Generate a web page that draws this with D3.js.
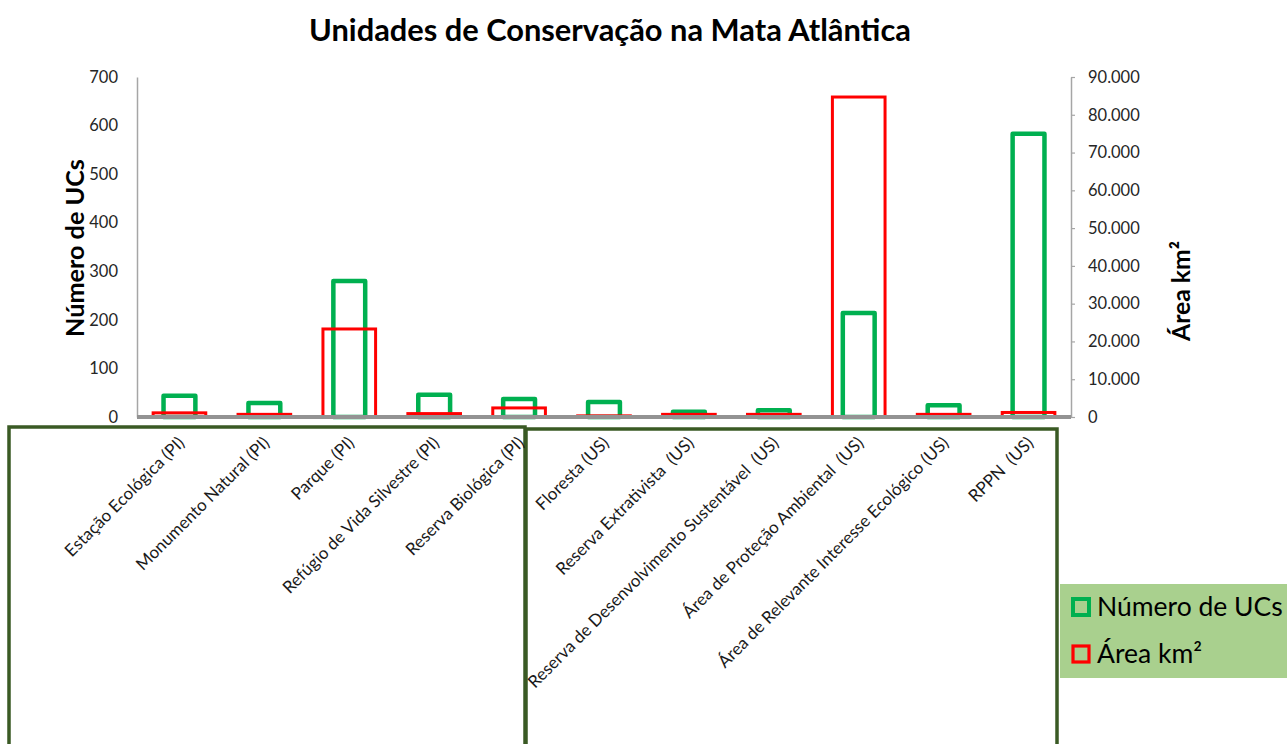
<!DOCTYPE html>
<html>
<head>
<meta charset="utf-8">
<script src="https://cdn.jsdelivr.net/npm/d3@7"></script>
<style>
  body { margin: 0; background: #fff; }
  svg { display: block; font-family: Lato, "Liberation Sans", sans-serif; }
</style>
</head>
<body>
<svg id="chart" width="1287" height="744"></svg>
<script>
// categories and values
const categories = [
    "Estação Ecológica (PI)",
    "Monumento Natural (PI)",
    "Parque (PI)",
    "Refúgio de Vida Silvestre (PI)",
    "Reserva Biológica (PI)",
    "Floresta (US)",
    "Reserva Extrativista  (US)",
    "Reserva de Desenvolvimento Sustentável  (US)",
    "Área de Proteção Ambiental  (US)",
    "Área de Relevante Interesse Ecológico (US)",
    "RPPN  (US)"
];
const numeroUCs = [44, 29, 280, 46, 37, 31, 11, 14, 214, 24, 583];
const areaKm2 = [1100, 700, 23300, 900, 2400, 300, 700, 700, 84700, 700, 1200];
const leftTicks = [0, 100, 200, 300, 400, 500, 600, 700];
const rightTicks = [0, 10000, 20000, 30000, 40000, 50000, 60000, 70000, 80000, 90000];

const svg = d3.select("#chart");
const plot = { left: 137, right: 1071, top: 77, bottom: 417 };

const x = d3.scaleBand()
    .domain(categories)
    .range([plot.left, plot.right]);

const yLeft = d3.scaleLinear()
    .domain([0, 700])
    .range([plot.bottom, plot.top]);

const yRight = d3.scaleLinear()
    .domain([0, 90000])
    .range([plot.bottom, plot.top]);

const ptBR = d3.formatLocale({ decimal: ",", thousands: ".", grouping: [3], currency: ["R$", ""] });
const fmtRight = ptBR.format(",d");

// scale font size so the text fills a given width
function fitWidth(sel, width) {
    sel.each(function () {
        let fs = parseFloat(d3.select(this).style("font-size"));
        let w = this.getComputedTextLength();
        d3.select(this).style("font-size", (fs * width / w) + "px");
    });
}

//Title
svg.append("text")
    .attr("x", 610)
    .attr("y", 41)
    .attr("text-anchor", "middle")
    .style("font-size", "28px")
    .style("font-weight", "bold")
    .style("fill", "#000")
    .text("Unidades de Conservação na Mata Atlântica")
    .call(fitWidth, 602);

//Left axis
let gLeft = svg.append("g")
    .attr("transform", "translate(" + plot.left + ",0)")
    .call(d3.axisLeft(yLeft).tickValues(leftTicks).tickSize(0).tickPadding(19));
gLeft.select(".domain").attr("stroke", "#a6a6a6").attr("stroke-width", 1.5);
gLeft.selectAll("text")
    .style("font-family", "Lato, sans-serif")
    .style("font-size", "16.5px")
    .style("fill", "#262626");

//Right axis
let gRight = svg.append("g")
    .attr("transform", "translate(" + plot.right + ",0)")
    .call(d3.axisRight(yRight).tickValues(rightTicks).tickSize(4).tickSizeOuter(0).tickPadding(13).tickFormat(fmtRight));
gRight.select(".domain").attr("stroke", "#a6a6a6").attr("stroke-width", 1.5);
gRight.selectAll(".tick line").attr("stroke", "#a6a6a6").attr("stroke-width", 1.2);
gRight.selectAll("text")
    .style("font-family", "Lato, sans-serif")
    .style("font-size", "16.5px")
    .style("fill", "#262626");

//Axis titles
svg.append("text")
    .attr("transform", "translate(84,248) rotate(-90)")
    .attr("text-anchor", "middle")
    .style("font-size", "21px")
    .style("font-weight", "bold")
    .text("Número de UCs")
    .call(fitWidth, 178);

svg.append("text")
    .attr("transform", "translate(1190,291) rotate(-90)")
    .attr("text-anchor", "middle")
    .style("font-size", "21px")
    .style("font-weight", "bold")
    .text("Área km²")
    .call(fitWidth, 100);

//Green bars (Número de UCs)
const greenW = x.bandwidth() * 0.375;
svg.append("g")
    .selectAll("rect")
    .data(numeroUCs)
    .join("rect")
    .attr("x", (d, i) => x(categories[i]) + x.bandwidth() / 2 - greenW / 2)
    .attr("y", d => yLeft(d))
    .attr("width", greenW)
    .attr("height", d => yLeft(0) - yLeft(d))
    .attr("fill", "none")
    .attr("stroke", "#00b050")
    .attr("stroke-width", 4.5)
    .attr("stroke-linejoin", "round");

//Red bars (Área km²)
const redW = x.bandwidth() * 0.62;
svg.append("g")
    .selectAll("rect")
    .data(areaKm2)
    .join("rect")
    .attr("x", (d, i) => x(categories[i]) + x.bandwidth() / 2 - redW / 2)
    .attr("y", d => yRight(d))
    .attr("width", redW)
    .attr("height", d => yRight(0) - yRight(d))
    .attr("fill", "none")
    .attr("stroke", "#ff0000")
    .attr("stroke-width", 3);

//Baseline
svg.append("line")
    .attr("x1", plot.left)
    .attr("x2", plot.right)
    .attr("y1", yLeft(0))
    .attr("y2", yLeft(0))
    .attr("stroke", "#939393")
    .attr("stroke-width", 4);

//Group boxes below the axis
svg.append("rect")
    .attr("x", 9).attr("y", 427)
    .attr("width", 516).attr("height", 400)
    .attr("fill", "none")
    .attr("stroke", "#3a5a24")
    .attr("stroke-width", 3.5);
svg.append("rect")
    .attr("x", 526).attr("y", 429)
    .attr("width", 531).attr("height", 400)
    .attr("fill", "none")
    .attr("stroke", "#3a5a24")
    .attr("stroke-width", 3.5);

//Category labels
svg.append("g")
    .selectAll("text")
    .data(categories)
    .join("text")
    .attr("transform", d => "translate(" + (x(d) + x.bandwidth() / 2 - 3) + ",435) rotate(-45)")
    .attr("text-anchor", "end")
    .attr("dy", "0.75em")
    .style("font-size", "17px")
    .style("fill", "#1a1a1a")
    .style("white-space", "pre")
    .text(d => d);

//Legend
let legend = svg.append("g");
legend.append("rect")
    .attr("x", 1060).attr("y", 584)
    .attr("width", 230).attr("height", 94)
    .attr("fill", "#a9d08e");

const legendItems = [
    { label: "Número de UCs", color: "#00b050", sw: 4, y: 607 },
    { label: "Área km²", color: "#ff0000", sw: 3.2, y: 654 }
];
let li = legend.selectAll("g.item")
    .data(legendItems)
    .join("g")
    .attr("class", "item");
li.append("rect")
    .attr("x", 1073)
    .attr("y", d => d.y - 8)
    .attr("width", 16)
    .attr("height", 16)
    .attr("fill", "none")
    .attr("stroke", d => d.color)
    .attr("stroke-width", d => d.sw);
li.append("text")
    .attr("x", 1097)
    .attr("y", d => d.y + 9)
    .style("font-size", "26.5px")
    .style("fill", "#000")
    .text(d => d.label);
</script>
</body>
</html>
